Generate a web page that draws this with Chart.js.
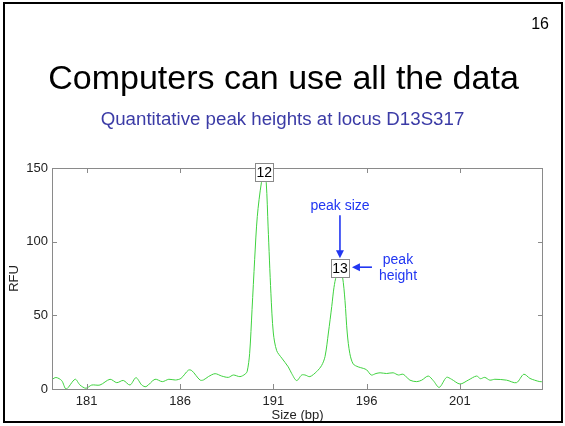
<!DOCTYPE html>
<html>
<head>
<meta charset="utf-8">
<title>Computers can use all the data</title>
<script src="https://cdn.jsdelivr.net/npm/chart.js@4"></script>
<style>
  body { margin: 0; background: #fff; font-family: 'Liberation Sans', Arial, sans-serif; }
  #slide { position: relative; width: 565px; height: 426px; overflow: hidden; background: #fff; }
  #frame { position: absolute; left: 3px; top: 2px; width: 560px; height: 421px; border: 2px solid #000; box-sizing: border-box; pointer-events: none; }
  #page-num { position: absolute; right: 16px; top: 16px; font-size: 16px; line-height: 16px; color: #000; }
  #title { position: absolute; left: 1px; top: 60px; width: 565px; text-align: center; font-size: 34px; line-height: 34px; color: #000; }
  #subtitle { position: absolute; left: 0; top: 110px; width: 565px; text-align: center; font-size: 18.7px; line-height: 18.7px; color: #3b3ba6; }
  #myChart { position: absolute; left: 0; top: 0; }
</style>
</head>
<body>
<div id="slide">
  <canvas id="myChart" width="565" height="426"></canvas>
  <div id="page-num">16</div>
  <div id="title">Computers can use all the data</div>
  <div id="subtitle">Quantitative peak heights at locus D13S317</div>
  <div id="frame"></div>
</div>

<script>
'use strict';

// ******* DATA *******

let sizeBp = [
  179.14, 179.36, 179.66, 179.9, 180.38, 180.64, 180.96, 181.27, 181.71, 182.25,
  182.61, 182.96, 183.32, 183.64, 183.95, 184.18, 184.66, 185.05, 185.4, 185.75,
  186.05, 186.45, 186.63, 187.07, 187.25, 187.52, 187.88, 188.23, 188.59, 188.86,
  189.21, 189.48, 189.6, 189.73, 189.86, 190.0, 190.14, 190.36, 190.52, 190.62,
  190.72, 190.87, 191.0, 191.18, 191.45, 191.8, 191.98, 192.25, 192.52, 192.7,
  192.96, 193.32, 193.59, 193.77, 193.95, 194.13, 194.25, 194.38, 194.57, 194.71,
  194.84, 194.96, 195.1, 195.28, 195.55, 195.82, 196.0, 196.25, 196.5, 196.72,
  197.07, 197.42, 197.7, 197.96, 198.32, 198.68, 198.95, 199.3, 199.57, 199.89,
  200.28, 200.55, 201.0, 201.44, 201.89, 202.1, 202.33, 202.6, 202.87, 203.5,
  204.03, 204.42, 204.75, 205.0, 205.28, 205.46
];

let rfuValues = [
  6.5, 7.8, 5.7, 0, 6.6, 2.7, 0.5, 2.7, 2.7, 6.6,
  4.3, 5.8, 2.7, 7.7, 2.7, 1.6, 6.6, 5.0, 6.6, 6.1,
  7.2, 12.8, 12.5, 6.1, 6.1, 8.4, 10.4, 8.8, 7.9, 9.5,
  8.4, 10.0, 12, 24, 54, 88, 117, 140, 147, 140,
  110, 65, 38, 26, 21, 15, 10.6, 5.7, 9.5, 9.5,
  8.4, 11.8, 16, 22, 38, 56, 69, 77, 82, 76,
  60, 38, 24, 17, 15, 14, 13, 9.5, 10.5, 11,
  10.5, 11, 9.5, 10, 6, 5, 6, 8.8, 5.7, 1.1,
  7.9, 6.6, 3.4, 6, 8.8, 7, 7.9, 6, 6.6, 6,
  4.3, 10, 7.2, 6, 5, 5
];

let xTicks = [181, 186, 191, 196, 201];
let yTicks = [0, 50, 100, 150];

// allele labels sit on top of each peak
let peakLabels = ['12', '13'];
let peakSize = [190.52, 194.57];
let peakHeight = [147, 82];


// ******* HELPERS *******

const BLUE = '#2136f2';

function drawArrow(ctx, x1, y1, x2, y2) {
  let ang = Math.atan2(y2 - y1, x2 - x1);
  let head = 8;
  ctx.strokeStyle = BLUE;
  ctx.fillStyle = BLUE;
  ctx.lineWidth = 1.6;
  ctx.beginPath();
  ctx.moveTo(x1, y1);
  ctx.lineTo(x2 - Math.cos(ang) * head * 0.8, y2 - Math.sin(ang) * head * 0.8);
  ctx.stroke();
  ctx.beginPath();
  ctx.moveTo(x2, y2);
  ctx.lineTo(x2 - head * Math.cos(ang) + 4 * Math.sin(ang), y2 - head * Math.sin(ang) - 4 * Math.cos(ang));
  ctx.lineTo(x2 - head * Math.cos(ang) - 4 * Math.sin(ang), y2 - head * Math.sin(ang) + 4 * Math.cos(ang));
  ctx.closePath();
  ctx.fill();
}

// matlab style box with inward ticks on all four sides
const axesBox = {
  id: 'axesBox',
  afterDatasetsDraw(chart) {
    let ctx = chart.ctx;
    let area = chart.chartArea;
    let xs = chart.scales.x;
    let ys = chart.scales.y;
    let len = 5;
    ctx.save();
    ctx.strokeStyle = '#8a8a8a';
    ctx.lineWidth = 1;
    ctx.strokeRect(area.left + 0.5, area.top + 0.5, area.right - area.left - 1, area.bottom - area.top);
    ctx.beginPath();
    for (let i = 0; i < xTicks.length; i++) {
      let px = Math.round(xs.getPixelForValue(xTicks[i])) + 0.5;
      ctx.moveTo(px, area.bottom);
      ctx.lineTo(px, area.bottom - len);
      ctx.moveTo(px, area.top);
      ctx.lineTo(px, area.top + len);
    }
    for (let i = 0; i < yTicks.length; i++) {
      let py = Math.round(ys.getPixelForValue(yTicks[i])) + 0.5;
      ctx.moveTo(area.left, py);
      ctx.lineTo(area.left + len, py);
      ctx.moveTo(area.right, py);
      ctx.lineTo(area.right - len, py);
    }
    ctx.stroke();
    ctx.restore();
  }
};

const peakNotes = {
  id: 'peakNotes',
  afterDraw(chart) {
    let ctx = chart.ctx;
    let xs = chart.scales.x;
    let ys = chart.scales.y;
    ctx.save();
    ctx.font = "14px 'Liberation Sans', Arial, sans-serif";
    ctx.textAlign = 'center';
    ctx.textBaseline = 'middle';
    let spots = [];
    for (let i = 0; i < peakLabels.length; i++) {
      let px = xs.getPixelForValue(peakSize[i]);
      let py = ys.getPixelForValue(peakHeight[i]);
      spots.push([px, py]);
      ctx.fillStyle = '#fff';
      ctx.fillRect(Math.round(px - 9) + 0.5, Math.round(py - 9.5) + 0.5, 18, 18);
      ctx.strokeStyle = '#8a8a8a';
      ctx.lineWidth = 1;
      ctx.strokeRect(Math.round(px - 9) + 0.5, Math.round(py - 9.5) + 0.5, 18, 18);
      ctx.fillStyle = '#000';
      ctx.fillText(peakLabels[i], px, py + 0.5);
    }

    // callouts for the second allele
    let px = spots[1][0];
    let py = spots[1][1];
    ctx.fillStyle = BLUE;
    ctx.font = "14px 'Liberation Sans', Arial, sans-serif";
    ctx.fillText('peak size', px, py - 62);
    drawArrow(ctx, px, py - 53, px, py - 10);
    drawArrow(ctx, px + 32, py - 1, px + 12, py - 1);
    ctx.fillStyle = BLUE;
    ctx.fillText('peak', px + 58, py - 8);
    ctx.fillText('height', px + 58, py + 8);
    ctx.restore();
  }
};


// ******* CHART *******

let points = [];
for (let i = 0; i < sizeBp.length; i++) {
  points.push({ x: sizeBp[i], y: rfuValues[i] });
}

Chart.defaults.font.family = "'Liberation Sans', Arial, sans-serif";

const ctx = document.getElementById('myChart').getContext('2d');
const myChart = new Chart(ctx, {
  type: 'line',
  data: {
    datasets: [{
      data: points,
      borderColor: '#3fd23f',
      borderWidth: 1,
      pointRadius: 0,
      tension: 0.3,
      fill: false
    }]
  },
  options: {
    responsive: false,
    animation: false,
    events: [],
    layout: {
      padding: { left: 0, top: 168, right: 22, bottom: 0 }
    },
    plugins: {
      legend: { display: false },
      tooltip: { enabled: false }
    },
    scales: {
      x: {
        type: 'linear',
        min: 179.14,
        max: 205.45,
        afterBuildTicks: function (scale) {
          scale.ticks = xTicks.map(v => ({ value: v }));
        },
        afterFit: function (scale) {
          scale.height = 37;
        },
        grid: { display: false, drawTicks: false },
        border: { display: false },
        ticks: {
          color: '#222',
          font: { size: 13 },
          padding: 5,
          maxRotation: 0,
          autoSkip: false,
          callback: v => String(v)
        },
        title: {
          display: true,
          text: 'Size (bp)',
          color: '#222',
          font: { size: 13 },
          padding: { top: 0, bottom: 3 }
        }
      },
      y: {
        min: 0,
        max: 150,
        afterBuildTicks: function (scale) {
          scale.ticks = yTicks.map(v => ({ value: v }));
        },
        afterFit: function (scale) {
          scale.width = 52;
        },
        grid: { display: false, drawTicks: false },
        border: { display: false },
        ticks: {
          color: '#222',
          font: { size: 13 },
          padding: 4,
          autoSkip: false,
          callback: v => String(v)
        },
        title: {
          display: true,
          text: 'RFU',
          color: '#222',
          font: { size: 13 },
          padding: { top: 7, bottom: 0 }
        }
      }
    }
  },
  plugins: [axesBox, peakNotes]
});
</script>
</body>
</html>
